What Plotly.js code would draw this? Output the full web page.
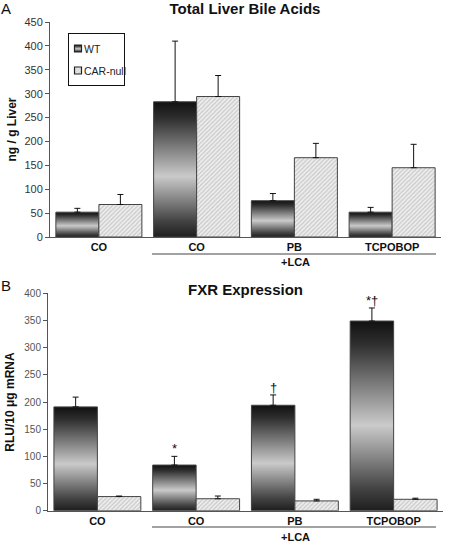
<!DOCTYPE html>
<html>
<head>
<meta charset="utf-8">
<script src="https://cdn.plot.ly/plotly-3.0.1.min.js"></script>
<style>html,body{margin:0;padding:0;background:#fff;}#chart{width:451px;height:542px;}</style>
</head>
<body>
<div id="chart"></div>
<script>
// ---- data ----
const categories = ["CO", "CO", "PB", "TCPOBOP"];
const groupLabel = "+LCA";
const seriesNames = ["WT", "CAR-null"];

// Panel A: Total Liver Bile Acids (ng / g Liver)
const bileWT = [52, 283, 76, 52];
const bileWTErr = [8, 127, 15, 10];
const bileCAR = [68, 294, 166, 145];
const bileCARErr = [21, 44, 30, 49];

// Panel B: FXR Expression (RLU/10 µg mRNA)
const fxrWT = [191, 84, 194, 349];
const fxrWTErr = [18, 16, 19, 24];
const fxrCAR = [26, 22, 18, 21];
const fxrCARErr = [1, 5, 3, 2];
const fxrMarks = ["", "*", "†", "*†"];

// ---- build ----
const idx = categories.map((_, i) => i);
const FONT = "Liberation Sans, Arial, sans-serif";
const outline = {color: "#444", width: 1};
const errStyle = (arr) => ({type: "data", symmetric: false, array: arr, arrayminus: arr.map(() => 0),
  color: "#111", thickness: 1, width: 3});
const carPattern = {shape: "/", bgcolor: "#eeeeee", fgcolor: "#c8c8c8", size: 3, solidity: 0.4};

const traces = [
  {type: "bar", x: idx, y: bileWT, name: seriesNames[0], xaxis: "x", yaxis: "y",
   marker: {color: "#9a9a9a", line: outline}, error_y: errStyle(bileWTErr), legendgroup: "wt"},
  {type: "bar", x: idx, y: bileCAR, name: seriesNames[1], xaxis: "x", yaxis: "y",
   marker: {color: "#eeeeee", pattern: carPattern, line: outline}, error_y: errStyle(bileCARErr), legendgroup: "car"},
  {type: "bar", x: idx, y: fxrWT, name: seriesNames[0], xaxis: "x2", yaxis: "y2", showlegend: false,
   marker: {color: "#9a9a9a", line: outline}, error_y: errStyle(fxrWTErr), legendgroup: "wt"},
  {type: "bar", x: idx, y: fxrCAR, name: seriesNames[1], xaxis: "x2", yaxis: "y2", showlegend: false,
   marker: {color: "#eeeeee", pattern: carPattern, line: outline}, error_y: errStyle(fxrCARErr), legendgroup: "car"}
];

const W = 451, H = 542;
const xCommon = {type: "linear", tickvals: idx, ticktext: categories, range: [-0.5, 3.5],
  showline: true, linecolor: "#555", linewidth: 1, ticks: "", showgrid: false, zeroline: false,
  tickfont: {family: FONT, size: 11, color: "#111", weight: "bold"}};
const yCommon = {showline: true, linecolor: "#555", linewidth: 1, ticks: "outside", ticklen: 4,
  tickcolor: "#555", showgrid: false, zeroline: false, dtick: 50};

const annotations = [
  {text: "A", xref: "paper", yref: "paper", x: 6 / W, y: 1 - 8 / H, xanchor: "center", yanchor: "middle",
   showarrow: false, font: {family: FONT, size: 15, color: "#111"}},
  {text: "B", xref: "paper", yref: "paper", x: 6 / W, y: 1 - 285 / H, xanchor: "center", yanchor: "middle",
   showarrow: false, font: {family: FONT, size: 15, color: "#111"}},
  {text: "FXR Expression", xref: "paper", yref: "paper", x: 245 / W, y: 1 - 289 / H, xanchor: "center", yanchor: "middle",
   showarrow: false, font: {family: FONT, size: 15, color: "#111", weight: "bold"}},
  {text: groupLabel, xref: "paper", yref: "paper", x: 295 / W, y: 1 - 262 / H, xanchor: "center", yanchor: "middle",
   showarrow: false, font: {family: FONT, size: 11, color: "#111", weight: "bold"}},
  {text: groupLabel, xref: "paper", yref: "paper", x: 295 / W, y: 1 - 537 / H, xanchor: "center", yanchor: "middle",
   showarrow: false, font: {family: FONT, size: 11, color: "#111", weight: "bold"}}
];
fxrMarks.forEach((m, i) => {
  if (!m) return;
  annotations.push({text: m, xref: "x2", yref: "y2", x: i - 0.22, y: fxrWT[i] + fxrWTErr[i],
    xanchor: "center", yanchor: "bottom", yshift: -2, showarrow: false,
    font: {family: FONT, size: 13, color: "#111"}});
});

const layout = {
  width: W, height: H, margin: {l: 0, r: 0, t: 0, b: 0},
  paper_bgcolor: "#fff", plot_bgcolor: "#fff",
  font: {family: FONT, color: "#333"},
  barmode: "group", bargap: 0.12, bargroupgap: 0,
  title: {text: "Total Liver Bile Acids", x: 245 / W, xanchor: "center", y: 1 - 9 / H, yanchor: "middle",
    font: {family: FONT, size: 15, color: "#111", weight: "bold"}},
  xaxis: Object.assign({}, xCommon, {domain: [50 / W, 441 / W], anchor: "y"}),
  yaxis: Object.assign({}, yCommon, {domain: [1 - 237 / H, 1 - 22 / H], range: [0, 450], anchor: "x",
    tickfont: {family: FONT, size: 11, color: "#333"},
    title: {text: "ng / g Liver", standoff: 5, font: {family: FONT, size: 12, color: "#111", weight: "bold"}}}),
  xaxis2: Object.assign({}, xCommon, {domain: [48 / W, 443 / W], anchor: "y2"}),
  yaxis2: Object.assign({}, yCommon, {domain: [1 - 510.7 / H, 1 - 293.3 / H], range: [0, 400], anchor: "x2",
    tickfont: {family: FONT, size: 10, color: "#555"},
    title: {text: "RLU/10 μg mRNA", standoff: 7, font: {family: FONT, size: 12, color: "#111", weight: "bold"}}}),
  legend: {x: 68 / W, y: 1 - 33 / H, xanchor: "left", yanchor: "top", bgcolor: "#fff",
    bordercolor: "#111", borderwidth: 1, font: {family: FONT, size: 10.5, color: "#222"},
    itemwidth: 30, tracegroupgap: 3},
  shapes: [
    {type: "line", xref: "x", yref: "paper", x0: 0.543, x1: 3.449, y0: 1 - 254 / H, y1: 1 - 254 / H,
     line: {color: "#444", width: 1}},
    {type: "line", xref: "x2", yref: "paper", x0: 0.553, x1: 3.429, y0: 1 - 527 / H, y1: 1 - 527 / H,
     line: {color: "#444", width: 1}}
  ],
  annotations: annotations
};

Plotly.newPlot("chart", traces, layout, {staticPlot: true, displayModeBar: false}).then(gd => {
  // vertical metallic gradient for WT bars
  const svg = gd.querySelector("svg.main-svg");
  const ns = "http://www.w3.org/2000/svg";
  let defs = svg.querySelector("defs");
  if (!defs) { defs = document.createElementNS(ns, "defs"); svg.insertBefore(defs, svg.firstChild); }
  const grad = document.createElementNS(ns, "linearGradient");
  grad.setAttribute("id", "wtgrad");
  grad.setAttribute("x1", "0"); grad.setAttribute("y1", "0");
  grad.setAttribute("x2", "0"); grad.setAttribute("y2", "1");
  [[0, "#111"], [0.12, "#2e2e2e"], [0.55, "#cacaca"], [0.88, "#444"], [1, "#1e1e1e"]].forEach(([o, c]) => {
    const s = document.createElementNS(ns, "stop");
    s.setAttribute("offset", o); s.setAttribute("stop-color", c);
    grad.appendChild(s);
  });
  defs.appendChild(grad);
  const barTraces = gd.querySelectorAll("g.trace.bars");
  barTraces.forEach((g, i) => {
    if (i % 2 === 0) g.querySelectorAll("g.point path").forEach(p => { p.style.fill = "url(#wtgrad)"; });
  });
  // compact legend: small square swatches close to the text
  const legItems = gd.querySelectorAll("g.legend g.traces");
  legItems.forEach((it, i) => {
    it.querySelectorAll("g.legendpoints path").forEach(p => {
      p.setAttribute("d", "M3.5,3.5H-3.5V-3.5H3.5Z");
      p.setAttribute("transform", "translate(9,0)");
      p.style.strokeWidth = "1.2px";
      p.style.stroke = "#222";
      if (i === 0) p.style.fill = "url(#wtgrad)";
    });
    const t = it.querySelector("text.legendtext");
    if (t) t.setAttribute("x", "15");
  });
  const bg = gd.querySelector("g.legend rect.bg");
  if (bg) bg.setAttribute("width", "56");
});
</script>
</body>
</html>
